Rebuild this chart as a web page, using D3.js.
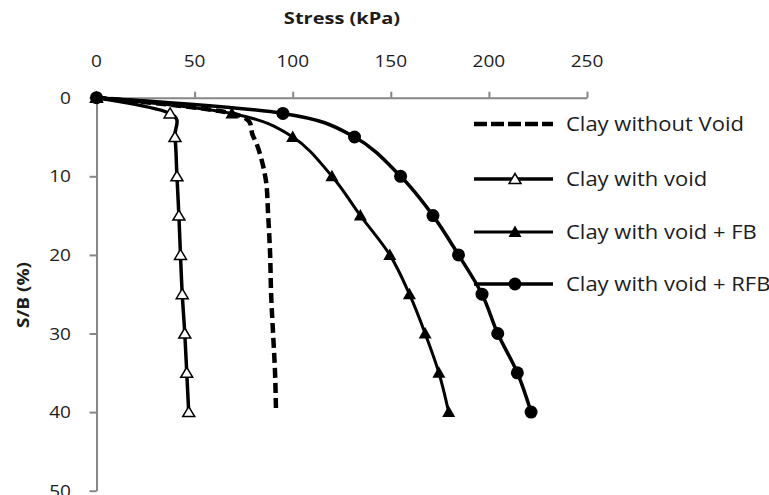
<!DOCTYPE html>
<html><head><meta charset="utf-8">
<script src="https://cdn.jsdelivr.net/npm/d3@7"></script>
<style>body{margin:0;background:#fff}</style>
</head><body>
<svg id="c" width="769" height="495"></svg>
<script>
// ---- data ----
const settlement = [0, 2, 5, 10, 15, 20, 25, 30, 35, 40];           // S/B (%)
const clayWithoutVoid = [0, 69, 80, 86, 87.5, 88.5, 89, 90, 91, 91.5];
const clayWithVoid    = [0, 37.5, 40, 41, 42, 42.8, 43.7, 45, 46, 47];
const clayVoidFB      = [0, 69, 100, 120, 134.5, 149.5, 159.5, 167.5, 174.5, 179.5];
const clayVoidRFB     = [0, 95, 131.5, 155, 171.5, 184.5, 196.5, 204.5, 214.5, 221.5];
const xTicks = [0, 50, 100, 150, 200, 250];
const yTicks = [0, 10, 20, 30, 40, 50];
const seriesNames = ["Clay without Void", "Clay with void", "Clay with void + FB", "Clay with void + RFB"];
const xTitle = "Stress (kPa)";
const yTitle = "S/B (%)";

const series = [
  {name: seriesNames[0], vals: clayWithoutVoid, marker: "none", dash: "10,5", sw: 4.5},
  {name: seriesNames[1], vals: clayWithVoid, marker: "openTri", dash: null, sw: 3.5},
  {name: seriesNames[2], vals: clayVoidFB, marker: "tri", dash: null, sw: 3},
  {name: seriesNames[3], vals: clayVoidRFB, marker: "circle", dash: null, sw: 3.5}
];

const svg = d3.select("#c");
svg.append("rect").attr("width", 769).attr("height", 495).attr("fill", "#fff");

const x = d3.scaleLinear().domain([0, 250]).range([96.5, 587]);
const y = d3.scaleLinear().domain([0, 50]).range([97.7, 490.7]);

const axisColor = "#878787";
const textColor = "#1c1c1c";
const font = "'Open Sans', sans-serif";

// axes
const gx = svg.append("g").attr("transform", `translate(0,${y(0)})`)
  .call(d3.axisTop(x).tickValues(xTicks).tickSize(6).tickSizeOuter(0).tickFormat(""));
const gy = svg.append("g").attr("transform", `translate(${x(0)},0)`)
  .call(d3.axisLeft(y).tickValues(yTicks).tickSize(7).tickSizeOuter(0).tickFormat(""));
[gx, gy].forEach(g => {
  g.select(".domain").attr("stroke", axisColor).attr("stroke-width", 2);
  g.selectAll(".tick line").attr("stroke", axisColor).attr("stroke-width", 2);
});

function stretchedText(px, py, txt, opts) {
  return svg.append("text")
    .attr("transform", `translate(${px},${py}) scale(${opts.sx || 1},1)`)
    .attr("font-family", font).attr("font-size", opts.size)
    .attr("font-weight", opts.bold ? "bold" : "normal")
    .attr("fill", textColor)
    .attr("text-anchor", opts.anchor || "middle")
    .text(txt);
}

// tick labels
xTicks.forEach(v => stretchedText(x(v), 67, v, {size: 17, sx: 1.12}));
yTicks.forEach(v => stretchedText(71, y(v) + 6, v, {size: 17, sx: 1.12, anchor: "end"}));

// titles
stretchedText(342, 24, xTitle, {size: 16, bold: true, sx: 1.25});
svg.append("text")
  .attr("transform", `translate(29,295) rotate(-90) scale(1.15,1)`)
  .attr("font-family", font).attr("font-size", 16.5).attr("font-weight", "bold")
  .attr("fill", textColor).attr("text-anchor", "middle").text(yTitle);

// lines
const line = d3.line().x(d => x(d[0])).y(d => y(d[1])).curve(d3.curveCardinal.tension(0));
const plot = svg.append("g");
series.forEach(s => {
  const pts = s.vals.map((v, i) => [v, settlement[i]]);
  plot.append("path").datum(pts).attr("d", line)
    .attr("fill", "none").attr("stroke", "#000").attr("stroke-width", s.sw)
    .attr("stroke-dasharray", s.dash);
});

function drawMarker(g, type, cx, cy) {
  if (type === "circle") {
    g.append("circle").attr("cx", cx).attr("cy", cy).attr("r", 6.5).attr("fill", "#000");
  } else if (type === "tri") {
    g.append("path").attr("d", `M${cx},${cy - 6.5}L${cx + 6.5},${cy + 5}L${cx - 6.5},${cy + 5}Z`).attr("fill", "#000");
  } else if (type === "openTri") {
    g.append("path").attr("d", `M${cx},${cy - 5.5}L${cx + 6},${cy + 4.5}L${cx - 6},${cy + 4.5}Z`)
      .attr("fill", "#fff").attr("stroke", "#000").attr("stroke-width", 1.5);
  }
}
series.forEach(s => {
  if (s.marker === "none") return;
  s.vals.forEach((v, i) => drawMarker(plot, s.marker, x(v), y(settlement[i])));
});

// legend
const legY = [124, 179, 232, 284];
const leg = svg.append("g");
series.forEach((s, i) => {
  leg.append("line").attr("x1", 474).attr("x2", 553).attr("y1", legY[i]).attr("y2", legY[i])
    .attr("stroke", "#000").attr("stroke-width", s.sw).attr("stroke-dasharray", s.dash === null ? null : "13,4");
  if (s.marker !== "none") drawMarker(leg, s.marker, 515, legY[i]);
  stretchedText(566, legY[i] + 7, s.name, {size: 20, sx: 1.1, anchor: "start"});
});
</script>
</body></html>
